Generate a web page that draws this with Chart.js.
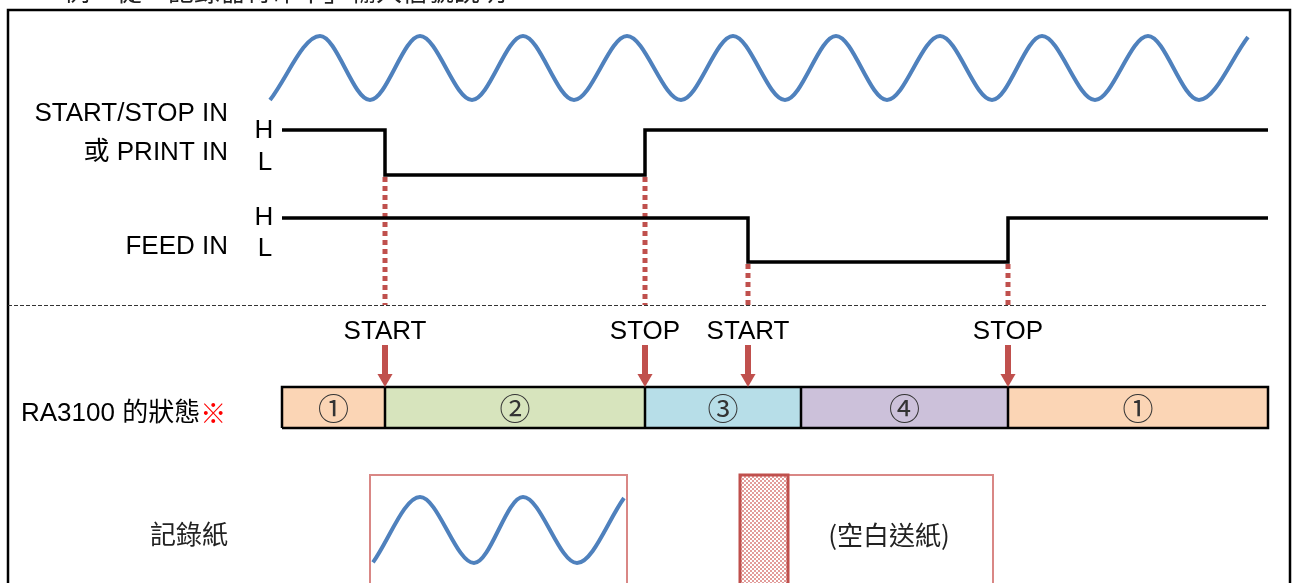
<!DOCTYPE html>
<html lang="zh-Hant">
<head>
<meta charset="utf-8">
<title>START/STOP IN / FEED IN 時序</title>
<script src="https://cdn.jsdelivr.net/npm/chart.js@4/dist/chart.umd.min.js"></script>
<style>
  html, body { margin: 0; padding: 0; background: #fff; }
  #wrap { position: relative; width: 1292px; height: 583px; }
</style>
</head>
<body>
<div id="wrap"><canvas id="timing"></canvas></div>
<script>
// horizontal axis = time (drawing units), vertical = rows of the diagram
const traceStart = 282;
const traceEnd = 1268;
const startStopEdges = [385, 645];   // H->L, then L->H
const feedEdges = [748, 1008];       // H->L, then L->H
const eventTimes = [385, 645, 748, 1008];
const eventLabels = ['START', 'STOP', 'START', 'STOP'];
const stateBounds = [282, 385, 645, 801, 1008, 1268];
const stateLabels = ['①', '②', '③', '④', '①'];

// input waveform: extrema (amplitude -1..1)
const waveX = [270, 320, 370, 420, 472, 523, 574, 627, 681, 733, 785, 836, 887, 940, 992, 1042, 1095, 1148, 1199, 1248];
const waveY = [-1, 1, -1, 1, -1, 1, -1, 1, -1, 1, -1, 1, -1, 1, -1, 1, -1, 1, -1, 0.97];

// what lands on the recording paper
const paperX = [373, 420, 474, 523, 577, 624];
const paperY = [-0.98, 1, -1, 1, -1, 0.97];

// layout (rows in px, y axis runs top-down)
const rows = {
  frameTop: 10, frameLeft: 8, frameRight: 1290, bottom: 600,
  wave: { mid: 68, amp: 32 },
  startStop: { H: 130, L: 175 },
  feed: { H: 218, L: 262 },
  divider: 305.5,
  eventText: 332, arrowTop: 345, arrowTip: 387,
  barTop: 387, barBottom: 428,
  paperTop: 475, paper: { mid: 530, amp: 33 },
  box1: [370, 627], box2: [740, 993], strip: [740, 788]
};

const RED = '#C0504D';
const BLUE = '#4F81BD';
const stateColors = ['#FBD5B5', '#D7E4BD', '#B7DEE8', '#CCC1DA', '#FBD5B5'];
const SANS = '"Liberation Sans", "Noto Sans CJK TC", sans-serif';
const CJK = '"Noto Sans CJK TC", sans-serif';

function line(data, color, width, extra) {
  return Object.assign({
    type: 'line', data, borderColor: color, borderWidth: width,
    pointRadius: 0, fill: false, tension: 0, borderCapStyle: 'butt'
  }, extra || {});
}

function stepPoints(level, edges) {
  const pts = [{ x: traceStart, y: level.H }];
  let cur = level.H;
  edges.forEach(t => {
    pts.push({ x: t, y: cur });
    cur = cur === level.H ? level.L : level.H;
    pts.push({ x: t, y: cur });
  });
  pts.push({ x: traceEnd, y: cur });
  return pts;
}

function wavePoints(xs, ys, lane) {
  return xs.map((x, i) => ({ x, y: lane.mid - ys[i] * lane.amp }));
}

function rectPath(x0, x1, y0, y1) {
  return [{ x: x0, y: y1 }, { x: x0, y: y0 }, { x: x1, y: y0 }, { x: x1, y: y1 }, { x: x0, y: y1 }];
}

// small checker pattern for the blank-feed strip
const pat = document.createElement('canvas');
pat.width = 4; pat.height = 4;
const pctx = pat.getContext('2d');
pctx.fillStyle = '#ffffff'; pctx.fillRect(0, 0, 4, 4);
pctx.fillStyle = '#E29C9A'; pctx.fillRect(0, 0, 2, 2); pctx.fillRect(2, 2, 2, 2);
const stripPattern = pctx.createPattern(pat, 'repeat');

// datasets in painting order (bottom first)
const ds = [];

// outer frame
ds.push(line([{ x: rows.frameLeft, y: rows.bottom }, { x: rows.frameLeft, y: rows.frameTop },
  { x: rows.frameRight, y: rows.frameTop }, { x: rows.frameRight, y: rows.bottom }], '#000', 2.5));

// section divider
ds.push(line([{ x: rows.frameLeft, y: rows.divider }, { x: traceEnd, y: rows.divider }], '#333', 1,
  { borderDash: [4, 2] }));

// input waveform
ds.push(line(wavePoints(waveX, waveY, rows.wave), BLUE, 4, { cubicInterpolationMode: 'monotone' }));

// dotted guides from the edges down to the divider
eventTimes.forEach(t => {
  const lane = startStopEdges.includes(t) ? rows.startStop : rows.feed;
  ds.push(line([{ x: t, y: lane.L + 2 }, { x: t, y: 305 }], RED, 5, { borderDash: [5, 4] }));
});

// logic signals
ds.push(line(stepPoints(rows.startStop, startStopEdges), '#000', 3.5));
ds.push(line(stepPoints(rows.feed, feedEdges), '#000', 3.5));

// state bar
stateLabels.forEach((s, i) => {
  ds.push(line([{ x: stateBounds[i], y: rows.barTop }, { x: stateBounds[i + 1], y: rows.barTop }],
    'rgba(0,0,0,0)', 0, { fill: { value: rows.barBottom }, backgroundColor: stateColors[i] }));
});
ds.push(line(rectPath(stateBounds[0], stateBounds[stateBounds.length - 1], rows.barTop, rows.barBottom), '#000', 2.5));
stateBounds.slice(1, -1).forEach(b => {
  ds.push(line([{ x: b, y: rows.barTop }, { x: b, y: rows.barBottom }], '#000', 2.5));
});

// event arrows
const headR = 8.7;
eventTimes.forEach(t => {
  ds.push(line([{ x: t, y: rows.arrowTop }, { x: t, y: rows.arrowTip - headR - 2 }], RED, 6));
  ds.push({
    type: 'line', data: [{ x: t, y: rows.arrowTip - headR }], showLine: false,
    pointStyle: 'triangle', pointRotation: 180, pointRadius: headR,
    pointBackgroundColor: RED, pointBorderColor: RED, pointBorderWidth: 0
  });
});

// recording paper
ds.push(line(rectPath(rows.box1[0], rows.box1[1], rows.paperTop, rows.bottom), '#D98785', 2));
ds.push(line(wavePoints(paperX, paperY, rows.paper), BLUE, 4, { cubicInterpolationMode: 'monotone' }));
ds.push(line(rectPath(rows.box2[0], rows.box2[1], rows.paperTop, rows.bottom), '#D98785', 2));
ds.push(line([{ x: rows.strip[0], y: rows.paperTop }, { x: rows.strip[1], y: rows.paperTop }],
  'rgba(0,0,0,0)', 0, { fill: { value: rows.bottom }, backgroundColor: stripPattern }));
ds.push(line(rectPath(rows.strip[0], rows.strip[1], rows.paperTop, rows.bottom), RED, 3));

// text labels (x, y in axis units)
const texts = [
  { t: '例：從「記錄器待命中」輸入信號說明', x: 64, y: 1, align: 'left', base: 'alphabetic', font: '26px ' + CJK, color: '#222' },
  { t: 'START/STOP IN', x: 228, y: 114, align: 'right' },
  { t: '或 PRINT IN', x: 228, y: 153, align: 'right' },
  { t: 'H', x: 264, y: 131 }, { t: 'L', x: 265, y: 163 },
  { t: 'FEED IN', x: 228, y: 247, align: 'right' },
  { t: 'H', x: 264, y: 218 }, { t: 'L', x: 265, y: 249 },
  { t: 'RA3100 的狀態', x: 21, y: 414, align: 'left' },
  { t: '記錄紙', x: 228, y: 534, align: 'right', font: '26px ' + CJK, color: '#222' },
  { t: '(空白送紙)', x: 889, y: 535, font: '26px ' + CJK, color: '#222' }
];
eventTimes.forEach((t, i) => texts.push({ t: eventLabels[i], x: t, y: rows.eventText }));
stateLabels.forEach((s, i) => texts.push({
  t: s, x: (stateBounds[i] + stateBounds[i + 1]) / 2, y: (rows.barTop + rows.barBottom) / 2 + 1,
  font: '31px ' + CJK, color: '#333'
}));

const textPlugin = {
  id: 'texts',
  afterDatasetsDraw(chart) {
    const { ctx, scales: { x, y } } = chart;
    ctx.save();
    texts.forEach(o => {
      ctx.font = o.font || '26px ' + SANS;
      ctx.fillStyle = o.color || '#000';
      ctx.textAlign = o.align || 'center';
      ctx.textBaseline = o.base || 'middle';
      ctx.fillText(o.t, x.getPixelForValue(o.x), y.getPixelForValue(o.y));
    });
    // red reference mark after the state label
    ctx.font = '26px ' + SANS;
    const w = ctx.measureText('RA3100 的狀態').width;
    ctx.font = '26px ' + CJK;
    ctx.fillStyle = '#FF0000';
    ctx.textAlign = 'left';
    ctx.textBaseline = 'middle';
    ctx.fillText('※', x.getPixelForValue(21) + w, y.getPixelForValue(413));
    ctx.restore();
  }
};

new Chart(document.getElementById('timing'), {
  type: 'line',
  data: { datasets: ds.reverse() },
  options: {
    responsive: true,
    maintainAspectRatio: false,
    animation: false,
    layout: { padding: 0, autoPadding: false },
    plugins: { legend: { display: false }, tooltip: { enabled: false } },
    scales: {
      x: { type: 'linear', min: 0, max: 1292, display: false },
      y: { type: 'linear', min: 0, max: 583, reverse: true, display: false }
    }
  },
  plugins: [textPlugin]
});
</script>
</body>
</html>
